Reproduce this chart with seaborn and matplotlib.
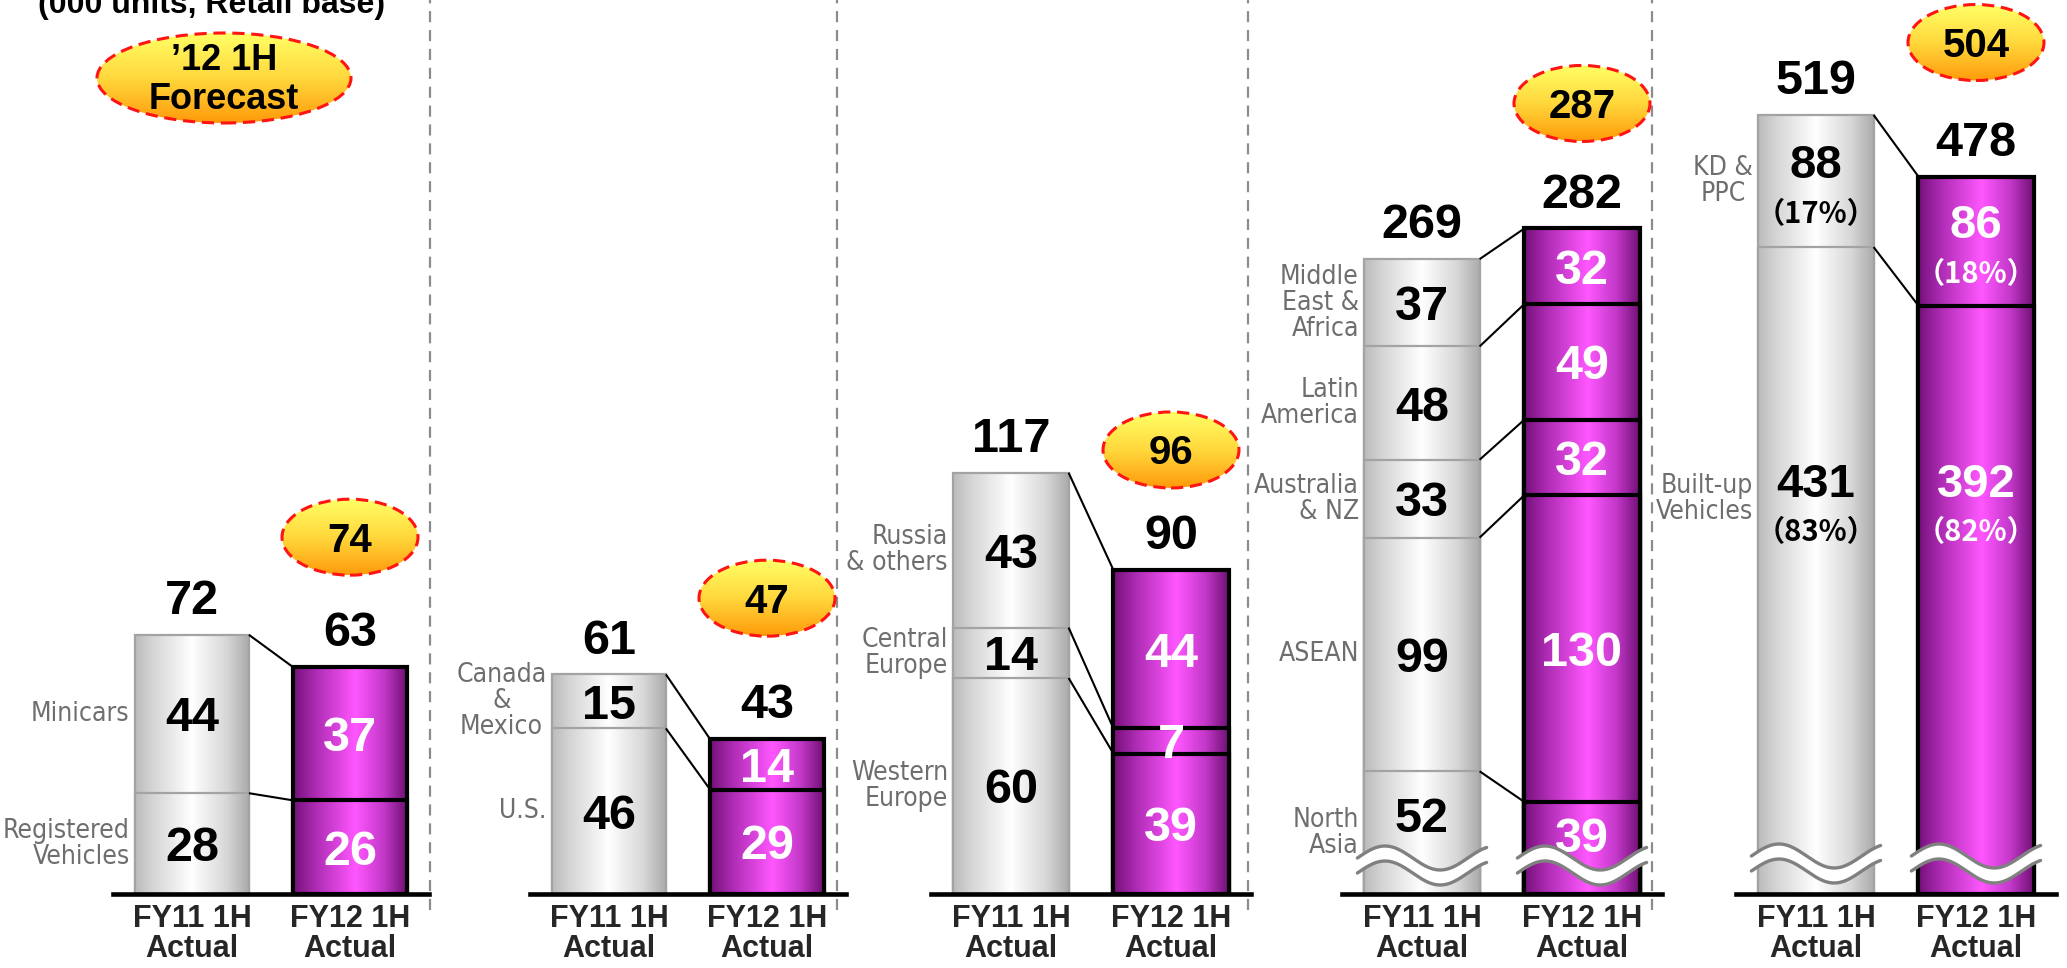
import numpy as np
import matplotlib
matplotlib.use("Agg")
import matplotlib.pyplot as plt
import seaborn as sns
from matplotlib.patches import Ellipse
from matplotlib.colors import LinearSegmentedColormap
from matplotlib import font_manager as fm

# ---------------- data ----------------
PERIODS = ["FY11 1H\nActual", "FY12 1H\nActual"]
UNIT_NOTE = "(000 units, Retail base)"
FORECAST_NOTE = "\u201912 1H\nForecast"

JAPAN_SEGMENTS = ["Registered\nVehicles", "Minicars"]
JAPAN_FY11 = [28, 44]
JAPAN_FY12 = [26, 37]

NA_SEGMENTS = ["U.S.", "Canada\n&\nMexico"]
NA_FY11 = [46, 15]
NA_FY12 = [29, 14]

EU_SEGMENTS = ["Western\nEurope", "Central\nEurope", "Russia\n& others"]
EU_FY11 = [60, 14, 43]
EU_FY12 = [39, 7, 44]

OTHER_SEGMENTS = ["North\nAsia", "ASEAN", "Australia\n& NZ", "Latin\nAmerica", "Middle\nEast &\nAfrica"]
OTHER_FY11 = [52, 99, 33, 48, 37]
OTHER_FY12 = [39, 130, 32, 49, 32]

KD_SEGMENTS = ["Built-up\nVehicles", "KD &\nPPC"]
KD_FY11 = [431, 88]
KD_FY12 = [392, 86]

FORECASTS = [74, 47, 96, 287, 504]

# ---------------- layout ----------------
W, H, DPI = 2067, 968, 100
BASE = 894                      # baseline, px from top
PANEL_DATA = [
    (JAPAN_SEGMENTS, JAPAN_FY11, JAPAN_FY12),
    (NA_SEGMENTS, NA_FY11, NA_FY12),
    (EU_SEGMENTS, EU_FY11, EU_FY12),
    (OTHER_SEGMENTS, OTHER_FY11, OTHER_FY12),
    (KD_SEGMENTS, KD_FY11, KD_FY12),
]
PANEL_C0 = [192, 609, 1011, 1422, 1816]     # px, center of first bar
PANEL_UNIT = [158, 158, 160, 160, 160]      # px per category step
PANEL_YMAX = [248.3, 248.3, 248.3, 378.8, 595.6]
ELL_OFFSET = [130, 141, 120, 125, 134]      # px above FY12 bar top
ELL_W, ELL_H = 136, 76
SEPARATORS = [430, 837, 1248, 1652]
WAVE_PX = {3: 36, 4: 38}
SHOW_PCT = {4}
CAT_MULTI = {"Canada\n&\nMexico": "center", "KD &\nPPC": "center"}
BAR_W = 0.72

sns.set_style("white")
plt.rcParams["font.family"] = ["Liberation Sans", "DejaVu Sans"]

# look for a narrow / condensed sans face for the category labels
cat_fp, narrow = None, False
for f in fm.fontManager.ttflist:
    nm = f.name
    if ("Narrow" in nm or "Condensed" in nm or f.stretch in ("condensed", "semi-condensed")) \
            and f.style == "normal" and f.weight in (400, "normal", "regular"):
        if "Liberation" in nm or "Arial" in nm:
            cat_fp, narrow = fm.FontProperties(fname=f.fname), True
            break
        if cat_fp is None:
            cat_fp = fm.FontProperties(fname=f.fname)
if cat_fp is None:
    cat_fp = fm.FontProperties(family="Liberation Sans")
    CAT_SIZE = 20
else:
    CAT_SIZE = 22 if narrow else 19
cat_fp.set_size(CAT_SIZE)
CJK = ["Noto Sans CJK JP", "DejaVu Sans"]

fig = plt.figure(figsize=(W / DPI, H / DPI), dpi=DPI)
fig.patch.set_facecolor("white")

gray_cmap = LinearSegmentedColormap.from_list(
    "g", [(0, "#BBBBBB"), (0.15, "#D4D4D4"), (0.5, "#FFFFFF"), (0.8, "#D8D8D8"), (1, "#ABABAB")])
mag_cmap = LinearSegmentedColormap.from_list(
    "m", [(0, "#74107A"), (0.2, "#AE2CB4"), (0.55, "#FF57FF"), (0.8, "#C238C8"), (1, "#701074")])
ell_cmap = LinearSegmentedColormap.from_list(
    "e", [(0, "#FFFF66"), (0.5, "#FFD83C"), (1, "#FF9A0A")])
GRAD = np.linspace(0, 1, 256).reshape(1, -1)

STYLE = [dict(cmap=gray_cmap, edge="#A3A3A3", lw=1.6, txt="black"),
         dict(cmap=mag_cmap, edge="black", lw=3.0, txt="white")]

NUM_SIZE = 35
HALF_CAP = 0.716 * NUM_SIZE / 2   # pt


def px2pt(px):
    return px * 72.0 / DPI


axes, cums = [], []
for p, (segs, v11, v12) in enumerate(PANEL_DATA):
    unit = PANEL_UNIT[p]
    ymax = PANEL_YMAX[p]
    ax = fig.add_axes([(PANEL_C0[p] - 0.5 * unit) / W, (H - BASE) / H, 2 * unit / W, BASE / H])
    ax.set_facecolor("none")
    vals = np.array([v11, v12], dtype=float)
    cum = np.cumsum(vals, axis=1)
    nseg = vals.shape[1]
    for layer, k in enumerate(range(nseg - 1, -1, -1)):
        n0 = len(ax.patches)
        sns.barplot(x=PERIODS, y=cum[:, k], order=PERIODS, width=BAR_W, errorbar=None,
                    color="white", ax=ax, zorder=2 + 2 * layer)
        for patch in ax.patches[n0:]:
            i = int(round(patch.get_x() + patch.get_width() / 2))
            st = STYLE[i]
            patch.set_facecolor("none")
            patch.set_edgecolor(st["edge"])
            patch.set_linewidth(st["lw"])
            patch.set_zorder(2.5 + 2 * layer)
            x0, w = patch.get_x(), patch.get_width()
            y0, h = patch.get_y(), patch.get_height()
            ax.imshow(GRAD, cmap=st["cmap"], extent=(x0, x0 + w, y0, y0 + h), aspect="auto",
                      interpolation="bilinear", zorder=2 + 2 * layer)
    ax.set_xlim(-0.5, 1.5)
    ax.set_ylim(0, ymax)
    ppu = BASE / ymax   # px per data unit

    # connectors
    for k in range(nseg):
        ax.plot([BAR_W / 2, 1 - BAR_W / 2], [cum[0, k], cum[1, k]], color="black", lw=1.5,
                zorder=15, solid_capstyle="butt")

    # labels
    for i in range(2):
        st = STYLE[i]
        total = cum[i, -1]
        ax.annotate(f"{int(total)}", xy=(i, total), xytext=(0, 15), textcoords="offset points",
                    ha="center", va="baseline", fontsize=NUM_SIZE, fontweight="bold",
                    color="black", zorder=20, annotation_clip=False)
        for k in range(nseg):
            v = vals[i, k]
            lo = cum[i, k] - v
            anchor = lo + v / 2
            if p == 3 and k == 0:
                anchor = lo + 0.65 * v
            if p == 4 and k == 0:
                anchor = 263
            if p in SHOW_PCT:
                ax.annotate(f"{int(v)}", xy=(i, anchor), xytext=(0, px2pt(20) - HALF_CAP),
                            textcoords="offset points", ha="center", va="baseline",
                            fontsize=NUM_SIZE - 1, fontweight="bold", color=st["txt"], zorder=20)
                pct = round(100 * v / total)
                ax.annotate(f"\uff08{pct}%\uff09", xy=(i, anchor), xytext=(0, -px2pt(31) - 8),
                            textcoords="offset points", ha="center", va="baseline",
                            fontsize=21, fontweight="bold", family=CJK, color=st["txt"], zorder=20)
            else:
                ax.annotate(f"{int(v)}", xy=(i, anchor), xytext=(0, -HALF_CAP),
                            textcoords="offset points", ha="center", va="baseline",
                            fontsize=NUM_SIZE, fontweight="bold", color=st["txt"], zorder=20)
    # category labels
    for k in range(nseg):
        v = vals[0, k]
        lo = cum[0, k] - v
        anchor = lo + v / 2
        if p == 4 and k == 0:
            anchor = 263
        ax.annotate(segs[k], xy=(-BAR_W / 2, anchor), xytext=(-4, 0), textcoords="offset points",
                    ha="right", va="center", fontproperties=cat_fp, color="#6E6E6E",
                    multialignment=CAT_MULTI.get(segs[k], "right"), linespacing=1.0,
                    zorder=20, annotation_clip=False)

    # wavy break marks
    if p in WAVE_PX:
        yc = WAVE_PX[p] / ppu
        amp = 12 / ppu
        gap = 15 / ppu
        ext = 7 / unit
        t = np.linspace(0, 1, 200)
        for i in range(2):
            xs = np.linspace(i - BAR_W / 2 - ext, i + BAR_W / 2 + ext, 200)
            up = yc + amp * np.sin(2 * np.pi * 1.17 * t)
            lowc = up - gap
            ax.fill_between(xs, lowc, up, color="white", zorder=30, lw=0)
            ax.plot(xs, up, color="#808080", lw=2.4, zorder=31)
            ax.plot(xs, lowc, color="#808080", lw=2.4, zorder=31)

    # axis styling
    for s in ("top", "left", "right"):
        ax.spines[s].set_visible(False)
    ax.spines["bottom"].set_color("black")
    ax.spines["bottom"].set_linewidth(3.3)
    ax.spines["bottom"].set_zorder(60)
    ax.set_yticks([])
    ax.set_xticks([0, 1], PERIODS)
    ax.tick_params(axis="x", length=0, pad=7)
    for lab in ax.get_xticklabels():
        lab.set_fontsize(22)
        lab.set_fontweight("bold")
        lab.set_linespacing(1.0)
    ax.set_xlabel("")
    ax.set_ylabel("")
    ax.grid(False)
    axes.append(ax)
    cums.append(cum)

# ---------------- overlay (forecast ellipses, separators, notes) ----------------
ov = fig.add_axes([0, 0, 1, 1], zorder=10)
ov.set_xlim(0, W)
ov.set_ylim(0, H)
ov.set_axis_off()
ov.patch.set_alpha(0)


def ellipse(cx, cy, w, h, text, size, lines=1):
    e = Ellipse((cx, cy), w, h, facecolor="none", edgecolor="none")
    ov.add_patch(e)
    im = ov.imshow(GRAD.T, cmap=ell_cmap, extent=(cx - w / 2, cx + w / 2, cy - h / 2, cy + h / 2),
                   origin="upper", aspect="auto", interpolation="bilinear", zorder=11)
    im.set_clip_path(e)
    ov.add_patch(Ellipse((cx, cy), w, h, fill=False, edgecolor="#FF1414", lw=2.2,
                         linestyle=(0, (4, 2.2)), zorder=12))
    if lines == 1:
        ov.text(cx, cy - 0.716 * size * DPI / 72 / 2, text, ha="center", va="baseline",
                fontsize=size, fontweight="bold", color="black", zorder=13)
    else:
        ov.text(cx, cy - 2, text, ha="center", va="center", multialignment="center",
                fontsize=size, fontweight="bold", color="black", linespacing=1.12, zorder=13)


for p, ax in enumerate(axes):
    tot = cums[p][1, -1]
    cx, cy = ax.transData.transform((1, tot))
    ellipse(cx, cy + ELL_OFFSET[p], ELL_W, ELL_H, str(FORECASTS[p]), 29)

ellipse(224, H - 78, 254, 90, FORECAST_NOTE, 26, lines=2)

for x in SEPARATORS:
    ov.plot([x, x], [H - 910, H], color="#8C8C8C", lw=1.6, linestyle=(0, (5, 3.5)), zorder=5)

ov.text(212, H - 13, UNIT_NOTE, ha="center", va="baseline", fontsize=23, fontweight="bold",
        color="black", zorder=13)

fig.savefig("out.png", dpi=DPI, facecolor="white")
